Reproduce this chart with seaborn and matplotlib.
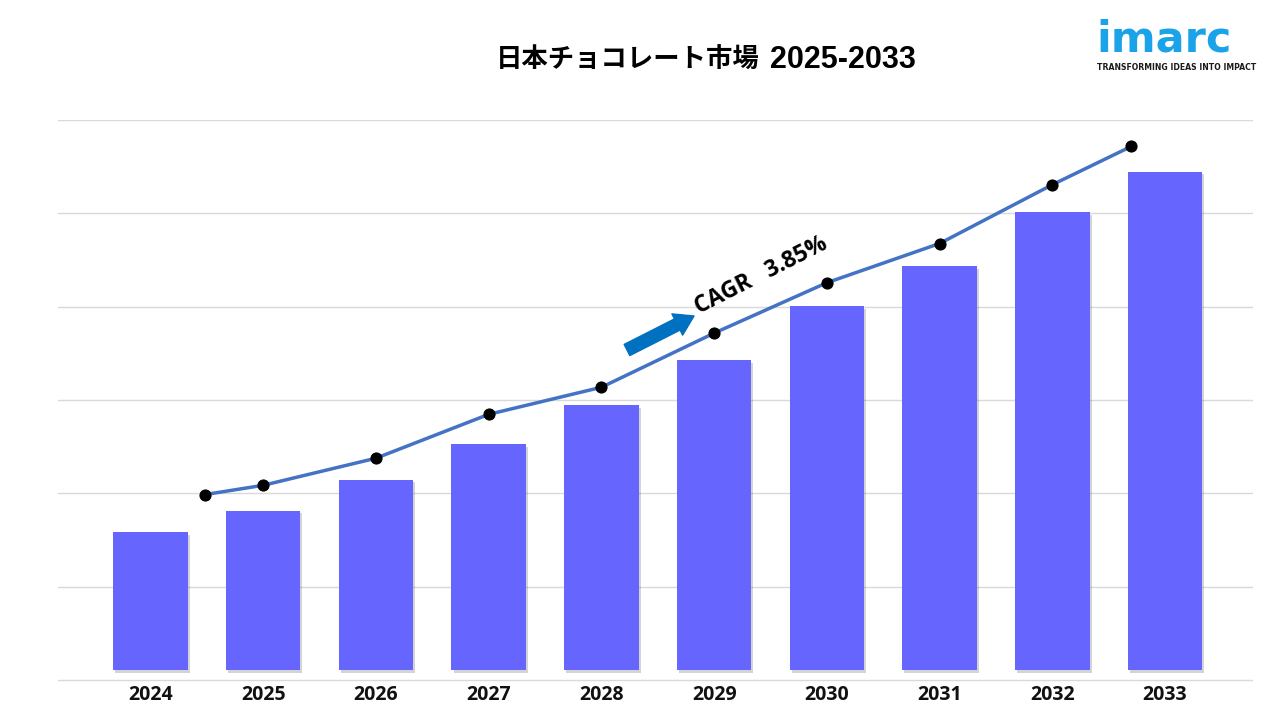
import numpy as np
import pandas as pd
import matplotlib
matplotlib.use("Agg")
import matplotlib.pyplot as plt
import matplotlib.patheffects as pe
import seaborn as sns

# ---- data (arbitrary units) ----
years = ["2024", "2025", "2026", "2027", "2028", "2029", "2030", "2031", "2032", "2033"]
bar_values = [1.48, 1.71, 2.04, 2.42, 2.84, 3.32, 3.90, 4.33, 4.91, 5.34]
line_values = [1.88, 1.98, 2.27, 2.74, 3.03, 3.61, 4.15, 4.57, 5.20, 5.61]
title_jp = "日本チョコレート市場"
title_years = "2025-2033"
cagr_label = "CAGR   3.85%"

sns.set_theme(style="white")
plt.rcParams["font.family"] = ["Open Sans", "Noto Sans CJK JP", "DejaVu Sans"]

fig = plt.figure(figsize=(12.8, 7.2), dpi=100)
ax = fig.add_axes([58 / 1280, 1 - 682 / 720, (1253 - 58) / 1280, (682 - 120) / 720])

df = pd.DataFrame({"year": years, "value": bar_values})
sns.barplot(data=df, x="year", y="value", color="#6666FF", saturation=1,
            width=0.66, ax=ax, zorder=2, edgecolor="none", linewidth=0)
for p in ax.patches:
    p.set_path_effects([pe.SimplePatchShadow(offset=(1.5, -2), alpha=0.25, shadow_rgbFace="#555555"),
                        pe.Normal()])

# line series (first / last points nudged inward as in the reference)
offsets = np.zeros(len(years))
offsets[0] = 0.48
offsets[-1] = -0.3
line_x = np.arange(len(years)) + offsets
sns.lineplot(x=line_x, y=line_values, ax=ax, color="#4472C4", linewidth=2.5,
             marker="o", markersize=8, markerfacecolor="black",
             markeredgecolor="black", sort=False, zorder=3)

# axes styling
ax.set_xlim(-0.82, 9.78)
y0 = -0.107
ax.set_ylim(y0 - 0.02, y0 + 6)
ax.set_yticks([y0 + k for k in range(7)])
ax.set_yticklabels([])
ax.yaxis.grid(True, color="#D9D9D9", linewidth=1)
ax.set_axisbelow(True)
for s in ax.spines.values():
    s.set_visible(False)
ax.tick_params(axis="y", length=0)
ax.tick_params(axis="x", length=0, pad=2)
ax.set_xlabel("")
ax.set_ylabel("")
for lbl in ax.get_xticklabels():
    lbl.set_fontweight("bold")
    lbl.set_fontsize(14)
    lbl.set_color("#111111")
    lbl.set_fontfamily(["Open Sans", "DejaVu Sans"])

# title
fig.text(760 / 1280, 1 - 68 / 720, title_jp, ha="right", va="baseline",
         fontsize=19, fontweight="bold", family=["Noto Sans CJK JP", "DejaVu Sans"], color="black")
fig.text(770 / 1280, 1 - 68 / 720, title_years, ha="left", va="baseline",
         fontsize=22, fontweight="bold", family=["Liberation Sans", "DejaVu Sans"], color="black")

# CAGR annotation
fig.text(699 / 1280, 1 - 314 / 720, cagr_label, rotation=27, rotation_mode="anchor",
         ha="left", va="baseline", fontsize=16.5, fontweight="bold", color="black",
         family=["Open Sans", "DejaVu Sans"])
ax.annotate("", xy=(694 / 1280, 1 - 316 / 720), xytext=(627 / 1280, 1 - 350 / 720),
            xycoords="figure fraction", textcoords="figure fraction",
            arrowprops=dict(arrowstyle="simple,head_length=0.75,head_width=0.95,tail_width=0.5",
                            color="#0070C0", mutation_scale=18, shrinkA=0, shrinkB=0))

# logo
fig.text(1096 / 1280, 1 - 52 / 720, "imarc", ha="left", va="baseline", fontsize=31,
         fontweight="bold", color="#1AA3E8", family=["DejaVu Sans"])
fig.text(1097 / 1280, 1 - 70 / 720, "TRANSFORMING IDEAS INTO IMPACT", ha="left", va="baseline",
         fontsize=5.6, fontweight="bold", color="#1a1a1a", family=["DejaVu Sans"])

fig.savefig("out.png", dpi=100)
